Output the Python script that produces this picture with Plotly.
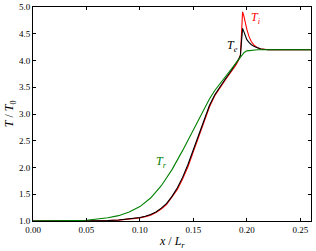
import plotly.graph_objects as go

# x / L_r positions
x_e = [0.0, 0.02, 0.04, 0.06, 0.07, 0.08, 0.09, 0.10, 0.105, 0.11, 0.115, 0.12, 0.125,
       0.13, 0.135, 0.14, 0.145, 0.15, 0.155, 0.16, 0.165, 0.17, 0.175, 0.18, 0.185,
       0.19, 0.1925, 0.194, 0.195, 0.196, 0.197, 0.198, 0.199, 0.200, 0.202, 0.204,
       0.207, 0.21, 0.213, 0.217, 0.22, 0.23, 0.26]
T_e = [1.00, 1.00, 1.00, 1.005, 1.01, 1.02, 1.04, 1.065, 1.09, 1.12, 1.17, 1.24, 1.33,
       1.46, 1.62, 1.82, 2.06, 2.34, 2.63, 2.92, 3.16, 3.36, 3.52, 3.66, 3.80,
       3.94, 4.03, 4.10, 4.35, 4.60, 4.55, 4.48, 4.43, 4.39, 4.34, 4.30,
       4.26, 4.23, 4.215, 4.205, 4.20, 4.20, 4.20]
T_i = [1.00, 1.00, 1.00, 1.003, 1.007, 1.016, 1.035, 1.058, 1.082, 1.11, 1.158, 1.225, 1.31,
       1.44, 1.59, 1.79, 2.02, 2.30, 2.59, 2.88, 3.13, 3.34, 3.50, 3.64, 3.78,
       3.92, 4.02, 4.10, 4.50, 4.91, 4.85, 4.75, 4.66, 4.58, 4.45, 4.36,
       4.28, 4.24, 4.22, 4.205, 4.20, 4.20, 4.20]

x_r = [0.0, 0.02, 0.04, 0.05, 0.06, 0.07, 0.08, 0.09, 0.10, 0.11, 0.12, 0.13, 0.14,
       0.15, 0.155, 0.16, 0.165, 0.17, 0.175, 0.18, 0.185, 0.19, 0.1925, 0.195,
       0.1975, 0.20, 0.205, 0.21, 0.26]
T_r = [1.00, 1.00, 1.01, 1.015, 1.035, 1.06, 1.10, 1.17, 1.27, 1.43, 1.66, 1.96, 2.32,
       2.70, 2.90, 3.10, 3.28, 3.44, 3.57, 3.70, 3.82, 3.96, 4.03, 4.10,
       4.15, 4.18, 4.195, 4.20, 4.20]

x_ticks = [0.00, 0.05, 0.10, 0.15, 0.20, 0.25]
y_ticks = [1.0, 1.5, 2.0, 2.5, 3.0, 3.5, 4.0, 4.5, 5.0]

FONT = "Liberation Serif"

fig = go.Figure()
fig.add_trace(go.Scatter(x=x_e, y=T_i, mode="lines", line=dict(color="#ff0000", width=1.1),
                         showlegend=False))
fig.add_trace(go.Scatter(x=x_e, y=T_e, mode="lines", line=dict(color="#000000", width=1.1),
                         showlegend=False))
fig.add_trace(go.Scatter(x=x_r, y=T_r, mode="lines", line=dict(color="#008000", width=1.1),
                         showlegend=False))

fig.add_annotation(x=0.2085, y=4.79, text="<i>T<sub>i</sub></i>", showarrow=False,
                   font=dict(family=FONT, size=12, color="#ff0000"))
fig.add_annotation(x=0.1865, y=4.28, text="<i>T<sub>e</sub></i>", showarrow=False,
                   font=dict(family=FONT, size=12, color="#000000"))
fig.add_annotation(x=0.1205, y=2.10, text="<i>T<sub>r</sub></i>", showarrow=False,
                   font=dict(family=FONT, size=12, color="#008000"))

# axis titles
fig.add_annotation(xref="paper", yref="paper", x=0.5, y=-0.052, yanchor="top",
                   text="<i>x</i> / <i>L<sub>r</sub></i>", showarrow=False,
                   font=dict(family=FONT, size=12, color="black"))
fig.add_annotation(xref="paper", yref="paper", x=-0.082, y=0.5, xanchor="center",
                   text="<i>T</i> / <i>T</i><sub>0</sub>", showarrow=False, textangle=-90,
                   font=dict(family=FONT, size=12, color="black"))

axis_common = dict(showline=True, linecolor="black", linewidth=1, mirror="allticks",
                   ticks="inside", ticklen=3, tickcolor="black", tickwidth=0.8,
                   showgrid=False, zeroline=False, automargin=False,
                   tickfont=dict(family=FONT, size=9, color="black"))

fig.update_xaxes(range=[0, 0.26], tickvals=x_ticks,
                 ticktext=[f"{v:.2f}" for v in x_ticks], **axis_common)
fig.update_yaxes(range=[1.0, 5.0], tickvals=y_ticks,
                 ticktext=[f"{v:.1f}" for v in y_ticks], **axis_common)

fig.update_layout(width=316, height=251, margin=dict(l=33, r=5, t=7, b=30, autoexpand=False),
                  plot_bgcolor="white", paper_bgcolor="white")

fig.write_html("out.html", config={"displayModeBar": False},
               post_script="document.body.style.margin='0';document.body.style.overflow='hidden';")
